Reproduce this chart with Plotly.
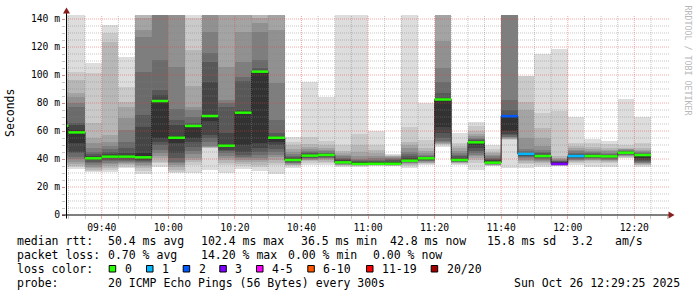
import plotly.graph_objects as go
import pandas as pd

DAY = "2025-10-26 "

# ---------------- data ----------------
bar_start = ["09:25", "09:30", "09:35", "09:40", "09:45", "09:50", "09:55",
             "10:00", "10:05", "10:10", "10:15", "10:20", "10:25", "10:30",
             "10:35", "10:40", "10:45", "10:50", "10:55", "11:00", "11:05",
             "11:10", "11:15", "11:20", "11:25", "11:30", "11:35", "11:40",
             "11:45", "11:50", "11:55", "12:00", "12:05", "12:10", "12:15",
             "12:20"]

median_rtt = [63.8, 59.0, 40.5, 41.7, 41.7, 41.2, 81.4, 55.2, 63.6, 70.7,
              49.5, 73.1, 102.4, 55.2, 39.3, 42.4, 42.9, 37.6, 36.5, 36.6,
              36.6, 38.8, 40.5, 82.5, 39.3, 51.9, 37.4, 70.6, 43.6, 42.1,
              36.5, 42.1, 42.1, 41.9, 44.5, 42.8]

loss_count = [0, 0, 0, 0, 0, 0, 0, 0, 0, 0, 0, 0, 0, 0, 0, 0, 0, 0, 0, 0,
              0, 0, 0, 0, 0, 0, 0, 2, 1, 0, 3, 1, 0, 0, 0, 0]

# 20 sorted ping rtts (ms) per 5-minute step
ping_rtts = [
    [33.0, 34.5, 35.5, 37.0, 39.0, 41.0, 43.0, 45.0, 48.0, 55.0, 62.0, 65.0, 67.0, 76.0, 80.0, 84.0, 88.0, 97.0, 103.0, 150.0],
    [32.6, 34.0, 35.0, 36.5, 38.1, 40.0, 41.7, 44.0, 45.2, 51.2, 60.7, 64.3, 65.5, 77.0, 79.8, 84.0, 86.9, 96.4, 102.4, 150.0],
    [30.7, 31.4, 32.1, 33.3, 34.5, 35.7, 36.9, 38.1, 39.3, 40.0, 41.2, 42.1, 43.6, 45.2, 47.6, 51.2, 55.0, 65.5, 101.2, 108.3],
    [30.5, 32.0, 33.5, 35.0, 36.5, 37.5, 38.5, 39.5, 40.5, 41.5, 42.5, 43.5, 45.0, 47.0, 49.0, 52.0, 57.0, 123.8, 129.8, 135.7],
    [33.3, 34.5, 35.5, 36.5, 37.4, 38.1, 38.8, 39.5, 40.5, 41.5, 42.5, 44.0, 47.6, 52.4, 60.7, 69.0, 77.4, 81.0, 91.7, 113.0],
    [29.6, 31.5, 33.5, 35.0, 36.0, 37.0, 38.0, 38.8, 39.5, 40.5, 44.0, 63.1, 71.4, 102.4, 127.4, 132.0, 141.0, 150.0, 155.0, 160.0],
    [34.5, 36.9, 38.1, 40.5, 42.0, 44.0, 46.5, 50.0, 52.4, 54.8, 82.1, 85.7, 89.3, 110.7, 150.0, 152.0, 155.0, 158.0, 160.0, 165.0],
    [30.0, 31.0, 32.1, 34.5, 35.7, 37.0, 38.0, 40.5, 44.0, 51.2, 56.4, 64.3, 67.9, 76.0, 106.0, 150.0, 152.0, 155.0, 158.0, 160.0],
    [30.0, 36.0, 38.0, 39.3, 41.0, 43.6, 46.0, 48.8, 52.4, 55.0, 63.0, 64.5, 66.0, 70.0, 75.0, 77.0, 92.0, 118.0, 141.0, 150.0],
    [32.0, 47.6, 48.0, 48.4, 48.8, 49.5, 52.0, 55.0, 57.0, 67.0, 71.4, 95.2, 109.5, 115.5, 131.0, 150.0, 152.0, 155.0, 158.0, 160.0],
    [30.0, 35.7, 37.5, 39.3, 40.5, 42.5, 44.5, 46.0, 46.5, 48.5, 51.0, 58.3, 77.0, 80.0, 82.0, 106.0, 150.0, 152.0, 155.0, 160.0],
    [32.8, 35.0, 36.5, 38.0, 39.3, 40.5, 41.7, 43.0, 45.0, 50.0, 74.0, 75.0, 96.0, 98.8, 109.5, 131.0, 150.0, 152.0, 155.0, 160.0],
    [31.4, 34.5, 36.0, 38.0, 39.5, 41.0, 43.0, 45.0, 47.6, 51.2, 102.5, 103.0, 104.8, 111.0, 131.0, 137.0, 141.0, 150.0, 155.0, 160.0],
    [29.5, 35.7, 37.5, 39.3, 41.7, 43.0, 45.0, 47.5, 50.0, 52.4, 55.5, 56.4, 58.3, 68.0, 94.0, 132.0, 150.0, 152.0, 155.0, 160.0],
    [33.5, 35.0, 35.5, 36.0, 36.5, 37.0, 37.5, 38.0, 38.5, 39.0, 40.0, 41.0, 41.7, 42.5, 43.6, 45.0, 47.0, 50.0, 52.4, 56.0],
    [35.7, 37.5, 38.5, 39.0, 39.5, 40.0, 40.5, 41.0, 41.5, 42.0, 43.0, 43.5, 44.0, 45.0, 46.0, 47.0, 48.5, 51.0, 56.0, 95.2],
    [35.5, 37.0, 38.0, 39.0, 40.0, 40.5, 41.0, 41.5, 42.0, 42.6, 43.1, 43.5, 44.0, 44.5, 45.5, 46.5, 48.0, 50.0, 53.0, 84.5],
    [34.5, 35.0, 35.4, 35.7, 36.0, 36.2, 36.5, 36.8, 37.0, 37.5, 38.2, 39.0, 40.0, 41.0, 42.0, 42.9, 44.0, 46.0, 50.0, 150.0],
    [34.5, 35.0, 35.3, 35.5, 35.7, 35.9, 36.1, 36.3, 36.5, 36.8, 37.2, 37.8, 38.5, 39.3, 40.0, 42.5, 45.0, 50.0, 58.0, 150.0],
    [34.8, 35.2, 35.5, 35.7, 35.9, 36.1, 36.3, 36.5, 36.7, 37.0, 37.5, 38.0, 38.5, 39.5, 41.0, 42.5, 44.0, 46.4, 50.0, 60.0],
    [34.9, 35.1, 35.3, 35.5, 35.7, 35.9, 36.1, 36.3, 36.5, 36.8, 37.2, 38.0, 39.0, 40.0, 41.0, 41.5, 42.0, 42.5, 43.0, 43.5],
    [33.3, 35.0, 35.7, 36.5, 37.0, 37.5, 38.0, 38.3, 38.6, 39.0, 40.0, 41.0, 42.0, 43.5, 45.0, 47.6, 50.0, 52.4, 63.0, 150.0],
    [35.7, 36.3, 36.8, 37.3, 37.8, 38.3, 38.8, 39.3, 39.8, 40.2, 40.7, 41.2, 41.7, 42.3, 43.0, 44.0, 46.0, 48.0, 53.6, 80.0],
    [48.8, 50.0, 50.5, 51.0, 51.5, 52.0, 53.0, 55.0, 58.3, 63.0, 82.5, 83.3, 87.0, 95.2, 105.0, 124.0, 150.0, 152.0, 155.0, 160.0],
    [35.7, 36.5, 37.0, 37.4, 37.7, 38.0, 38.2, 38.5, 38.8, 39.2, 40.0, 41.0, 42.0, 43.0, 44.5, 46.0, 47.6, 49.0, 51.5, 58.5],
    [32.1, 37.5, 39.5, 41.0, 42.0, 43.0, 44.0, 46.0, 48.0, 50.0, 52.2, 52.7, 53.3, 54.0, 55.0, 56.5, 58.0, 60.0, 63.5, 66.6],
    [35.0, 35.3, 35.5, 35.7, 35.9, 36.1, 36.3, 36.5, 36.8, 37.2, 38.0, 39.0, 40.0, 41.0, 42.0, 43.0, 44.0, 45.0, 47.0, 50.0],
    [33.3, 53.5, 54.0, 54.5, 55.0, 55.5, 56.0, 57.0, 58.0, 60.0, 71.0, 71.5, 75.0, 82.0, 150.0, 152.0, 155.0, 158.0, 160.0, 165.0],
    [33.3, 36.5, 37.5, 38.5, 39.5, 40.5, 41.5, 42.0, 42.5, 43.0, 43.8, 44.0, 44.5, 45.5, 47.0, 55.0, 75.0, 81.0, 99.3, 99.3],
    [34.5, 36.0, 37.0, 38.0, 38.8, 39.3, 40.0, 40.5, 41.2, 41.8, 42.5, 43.2, 44.0, 45.0, 46.4, 49.0, 55.0, 62.0, 72.9, 115.0],
    [34.7, 35.0, 35.3, 35.5, 35.7, 35.9, 36.1, 36.3, 36.5, 36.8, 37.2, 37.8, 38.3, 38.8, 39.3, 40.0, 41.0, 42.0, 74.0, 118.6],
    [35.5, 37.0, 37.8, 38.4, 39.0, 39.5, 40.0, 40.5, 41.2, 41.8, 42.4, 43.0, 43.7, 44.5, 45.5, 46.5, 47.6, 49.0, 51.2, 69.8],
    [34.5, 37.5, 38.3, 39.0, 39.5, 40.0, 40.4, 40.9, 41.4, 41.9, 42.5, 43.0, 43.6, 44.3, 45.0, 45.9, 47.0, 48.5, 51.2, 54.3],
    [34.5, 37.0, 37.8, 38.5, 39.1, 39.6, 40.1, 40.6, 41.1, 41.6, 42.2, 42.7, 43.2, 43.8, 44.6, 45.5, 46.5, 48.0, 50.9, 53.1],
    [40.5, 41.0, 41.5, 42.0, 42.4, 42.8, 43.2, 43.6, 44.0, 44.3, 44.7, 45.0, 45.4, 45.8, 46.3, 46.8, 47.3, 48.0, 50.0, 82.6],
    [34.5, 35.5, 36.0, 36.5, 37.0, 37.5, 38.0, 38.5, 39.5, 41.0, 43.0, 43.4, 43.8, 44.2, 44.8, 45.5, 46.5, 48.0, 51.2, 69.8],
]

y_tick_vals = [0, 20, 40, 60, 80, 100, 120, 140]
y_tick_text = ["0", "20 m", "40 m", "60 m", "80 m", "100 m", "120 m", "140 m"]

loss_labels = ["0", "1", "2", "3", "4-5", "6-10", "11-19", "20/20"]
loss_colors = ["#26ff00", "#00b8ff", "#0059ff", "#7e00ff", "#ff00ff", "#ff5500", "#ff0000", "#a10000"]

row_rtt = ["median rtt:", "50.4 ms avg", "102.4 ms max", "36.5 ms min", "42.8 ms now", "15.8 ms sd", "3.2", "am/s"]
row_loss = ["packet loss:", "0.70 % avg", "14.20 % max", "0.00 % min", "0.00 % now"]
probe_text = ["probe:", "20 ICMP Echo Pings (56 Bytes) every 300s", "Sun Oct 26 12:29:25 2025"]

# ---------------- styling ----------------
MONO = "DejaVu Sans Mono"
band_gray = ["#dddddd", "#cacaca", "#b7b7b7", "#a4a4a4", "#919191",
             "#7e7e7e", "#6b6b6b", "#585858", "#454545", "#323232"]
GRID_MINOR = "rgba(128,128,128,0.45)"
GRID_MAJOR = "rgba(230,60,60,0.45)"
STEP = pd.Timedelta(minutes=5)
L, R, T, B = 66, 28, 15, 82
W, H = 697, 297
PW, PH = W - L - R, H - T - B
Y_TOP = 142.857
X0 = pd.Timestamp(DAY + "09:29:16")
X1 = pd.Timestamp(DAY + "12:30:25")


def PX(x):
    return (x - L) / PW


def PY(y):
    return (T + PH - y) / PH


def loss_index(n):
    if n <= 3:
        return n
    if n <= 5:
        return 4
    if n <= 10:
        return 5
    if n <= 19:
        return 6
    return 7


starts = [pd.Timestamp(DAY + s) for s in bar_start]
centers = [s + STEP / 2 for s in starts]

fig = go.Figure()

# smoke bands: outer (light) first, inner (dark) on top
for k in range(10):
    lo = [p[k] for p in ping_rtts]
    hi = [p[19 - k] for p in ping_rtts]
    fig.add_trace(go.Bar(
        x=centers, y=[h - l for h, l in zip(hi, lo)], base=lo,
        width=STEP.total_seconds() * 1000,
        marker=dict(color=band_gray[k], line=dict(width=0)),
        hoverinfo="skip", showlegend=False))

# dark median step line
step_x = starts + [starts[-1] + STEP]
step_y = median_rtt + [median_rtt[-1]]
fig.add_trace(go.Scatter(x=step_x, y=step_y, mode="lines",
                         line=dict(color="#202020", width=1, shape="hv"),
                         hoverinfo="skip", showlegend=False))

# grid drawn over the smoke (rrdtool style)
minor_v, major_v = [], []
for t in pd.date_range(DAY + "09:30", DAY + "12:25", freq="5min"):
    (major_v if t.minute % 20 == 0 else minor_v).append(t)
minor_h, major_h = [], []
for v in range(5, 141, 5):
    (major_h if v % 20 == 0 else minor_h).append(v)


def vlines(ts):
    xs, ys = [], []
    for t in ts:
        xs += [t, t, None]
        ys += [0, Y_TOP, None]
    return xs, ys


def hlines(vs):
    xs, ys = [], []
    for v in vs:
        xs += [X0, X1, None]
        ys += [v, v, None]
    return xs, ys


for (xs, ys), col in [(vlines(minor_v), GRID_MINOR), (hlines(minor_h), GRID_MINOR),
                      (vlines(major_v), GRID_MAJOR), (hlines(major_h), GRID_MAJOR)]:
    fig.add_trace(go.Scatter(x=xs, y=ys, mode="lines",
                             line=dict(color=col, width=1, dash="1px,1px"),
                             hoverinfo="skip", showlegend=False))

# coloured median segments by loss
for li, col in enumerate(loss_colors):
    xs, ys = [], []
    for s, m, n in zip(starts, median_rtt, loss_count):
        if loss_index(n) == li:
            xs += [s, s + STEP, None]
            ys += [m, m, None]
    if xs:
        fig.add_trace(go.Scatter(x=xs, y=ys, mode="lines",
                                 line=dict(color=col, width=2.5),
                                 hoverinfo="skip", showlegend=False))

shapes = []
# axes lines
shapes.append(dict(type="line", xref="paper", yref="paper",
                   x0=PX(62), x1=PX(669), y0=0, y1=0,
                   line=dict(color="#000000", width=1), layer="above"))
shapes.append(dict(type="line", xref="paper", yref="paper",
                   x0=PX(66.5), x1=PX(66.5), y0=PY(218.5), y1=PY(11),
                   line=dict(color="#000000", width=1), layer="above"))
# arrows
shapes.append(dict(type="path", xref="paper", yref="paper",
                   path=f"M {PX(668.5)} {PY(211.5)} L {PX(674.5)} {PY(215)} L {PX(668.5)} {PY(218.5)} Z",
                   fillcolor="#8b1c1c", line=dict(width=0), layer="above"))
shapes.append(dict(type="path", xref="paper", yref="paper",
                   path=f"M {PX(63)} {PY(13.5)} L {PX(66.5)} {PY(7.5)} L {PX(70)} {PY(13.5)} Z",
                   fillcolor="#8b1c1c", line=dict(width=0), layer="above"))

annotations = []


def text(x, y, s, size=11.5, color="#000000", anchor="left", angle=0):
    annotations.append(dict(x=PX(x), y=PY(y), xref="paper", yref="paper",
                            text=s, showarrow=False, xanchor=anchor, yanchor="middle",
                            textangle=angle, borderpad=0,
                            font=dict(family=MONO, size=size, color=color)))


rtt_x = [16, 107.3, 200.7, 300.5, 389.3, 486.7, 571, 614]
for x, s in zip(rtt_x, row_rtt):
    text(x - 0.5, 241, s)
loss_x = [16, 107.3, 200.7, 287.5, 372.3]
for x, s in zip(loss_x, row_loss):
    text(x - 0.5, 255, s)
text(15.5, 269, "loss color:")
box_x = [108.7, 146, 182.7, 219.3, 256, 307.3, 366, 430.7]
for bx, lab, col in zip(box_x, loss_labels, loss_colors):
    shapes.append(dict(type="rect", xref="paper", yref="paper",
                       x0=PX(bx + 0.5), x1=PX(bx + 7), y0=PY(272), y1=PY(265.5),
                       fillcolor=col, line=dict(color="#000000", width=1), layer="above"))
    text(bx + 15.3 - 0.5, 269, lab)
probe_x = [16, 107.3, 513.3]
for x, s in zip(probe_x, probe_text):
    text(x - 0.5, 283.3, s)

text(10, 113, "Seconds", angle=-90, anchor="center")
text(687.5, 60, "RRDTOOL / TOBI OETIKER", size=8.3, color="#b8b8b8", anchor="center", angle=90)

fig.update_layout(
    width=W, height=H,
    margin=dict(l=L, r=R, t=T, b=B, pad=0),
    paper_bgcolor="#ffffff", plot_bgcolor="#ffffff",
    barmode="overlay", bargap=0, showlegend=False,
    shapes=shapes, annotations=annotations,
    xaxis=dict(type="date", range=[X0, X1], showgrid=False, zeroline=False,
               showline=False, tick0=DAY + "09:40", dtick=20 * 60 * 1000,
               tickformat="%H:%M", ticks="outside", ticklen=3, tickcolor=GRID_MAJOR,
               tickfont=dict(family=MONO, size=9.7, color="#000000"),
               minor=dict(dtick=5 * 60 * 1000, tick0=DAY + "09:40", ticks="outside",
                          ticklen=3, tickcolor=GRID_MINOR, showgrid=False),
               fixedrange=True),
    yaxis=dict(range=[0, Y_TOP], showgrid=False, zeroline=False, showline=False,
               tickmode="array", tickvals=y_tick_vals, ticktext=y_tick_text,
               ticks="outside", ticklen=3, tickcolor=GRID_MAJOR,
               tickfont=dict(family=MONO, size=9.7, color="#000000"),
               minor=dict(dtick=5, ticks="outside", ticklen=3, tickcolor=GRID_MINOR,
                          showgrid=False),
               fixedrange=True),
)

fig.write_html("out.html", config={"displayModeBar": False})
